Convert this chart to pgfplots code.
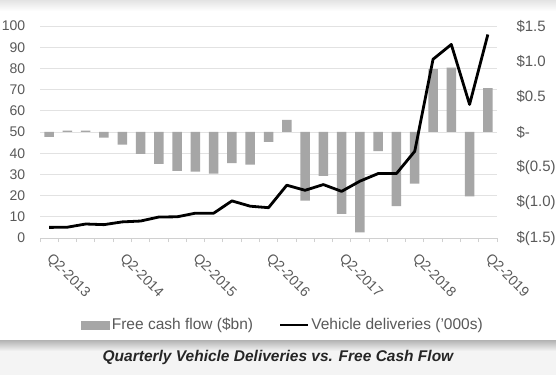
\documentclass[border=0pt]{standalone}
\usepackage{pgfplots}
\pgfplotsset{compat=1.18}
\usepackage{fontspec}
\setmainfont{Liberation Sans}
\definecolor{barg}{HTML}{A6A6A6}
\definecolor{tickg}{HTML}{595959}
\definecolor{gridg}{HTML}{E2E2E2}
\definecolor{axg}{HTML}{D0D0D0}

\pgfplotstableread{
x fcf del
0 -0.07 5.0
1 0.02 5.1
2 0.02 6.6
3 -0.08 6.3
4 -0.18 7.6
5 -0.31 8.0
6 -0.45 9.9
7 -0.55 10.0
8 -0.56 11.7
9 -0.59 11.7
10 -0.44 17.5
11 -0.46 15.0
12 -0.14 14.3
13 0.17 24.9
14 -0.97 22.5
15 -0.62 25.2
16 -1.16 22.0
17 -1.42 26.8
18 -0.27 30.4
19 -1.05 30.4
20 -0.73 40.9
21 0.89 84.3
22 0.91 91.3
23 -0.91 63.0
24 0.62 96.0
}\data

\pgfplotsset{
  base/.style={
    at={(40pt,137pt)}, anchor=south west,
    width=457pt, height=212pt, scale only axis,
    xmin=-0.5, xmax=24.5,
    tick label style={font=\fontsize{14}{16}\selectfont, text=tickg},
    /pgf/number format/assume math mode=true,
  }
}

\begin{document}
\begin{tikzpicture}
\path[use as bounding box] (0,0) rectangle (556pt,375pt);
\fill[white] (0,0) rectangle (556pt,375pt);
\shade[top color=gray!22, bottom color=white] (0,364pt) rectangle (556pt,375pt);
\fill[gray!9] (0,0) rectangle (556pt,24pt);
\shade[top color=gray!60, bottom color=gray!9] (0,24pt) rectangle (556pt,35pt);

% grid + left axis + x labels
\begin{axis}[base,
  ymin=0, ymax=100, ytick={0,10,...,100},
  ymajorgrids, grid style={gridg, line width=0.9pt},
  axis x line=bottom, axis y line=left,
  x axis line style={-, draw=axg, line width=0.8pt},
  y axis line style={draw=none},
  ytick style={draw=none},
  yticklabel style={xshift=-7pt},
  xtick={0,4,...,24},
  xticklabels={Q2-2013,Q2-2014,Q2-2015,Q2-2016,Q2-2017,Q2-2018,Q2-2019},
  major x tick style={draw=none},
  minor xtick={-0.5,0.5,...,24.5},
  minor x tick style={draw=axg, line width=0.8pt},
  tick align=outside, minor tick length=4pt,
  x tick label style={font=\fontsize{14}{16}\selectfont, rotate=-45, anchor=north west, xshift=6.5pt, yshift=-0.5pt},
]
\addplot[draw=none] coordinates {(0,0)};
\end{axis}

% bars + right axis
\begin{axis}[base,
  ymin=-1.5, ymax=1.5,
  axis x line=none, axis y line*=right,
  y axis line style={draw=none},
  ytick style={draw=none},
  ytick={-1.5,-1,...,1.5},
  yticklabels={\$(1.5),\$(1.0),\$(0.5),\$-,\$0.5,\$1.0,\$1.5},
  yticklabel style={anchor=west, xshift=16pt, font=\fontsize{15}{17}\selectfont},
]
\addplot[ybar, bar width=9.5pt, fill=barg, draw=none] table[x=x, y=fcf] {\data};
\end{axis}

% line
\begin{axis}[base,
  ymin=0, ymax=100,
  axis lines=none, ticks=none,
  legend style={draw=none, fill=none, at={(0.532,-0.41)}, anchor=center,
    font=\fontsize{15.5}{17}\selectfont, text=tickg,
    /tikz/every even column/.append style={column sep=24pt},
    inner sep=0pt},
  legend columns=2,
]
\addlegendimage{legend image code/.code={\fill[barg] (0pt,-4pt) rectangle (28pt,4pt);}}
\addlegendentry{Free cash flow (\$bn)}
\addplot[black, line width=2.8pt, line join=round,
  legend image code/.code={\draw[black, line width=2.2pt] (0pt,0pt) -- (28pt,0pt);}]
  table[x=x, y=del] {\data};
\addlegendentry{Vehicle deliveries ('000s)}
\end{axis}

\node[font=\fontsize{15.5}{17}\selectfont\bfseries\itshape, text=black!85] at (278pt,18pt)
  {Quarterly Vehicle Deliveries vs. Free Cash Flow};
\end{tikzpicture}
\end{document}
